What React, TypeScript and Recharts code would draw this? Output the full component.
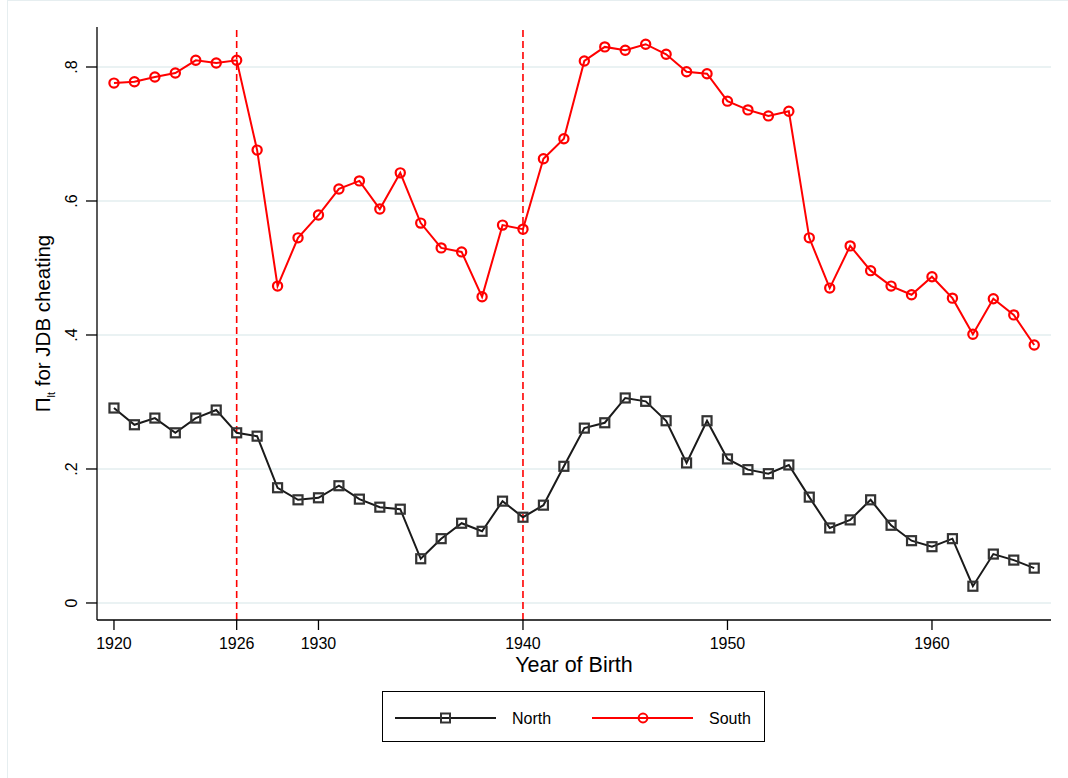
import React from 'react';
import { LineChart, Line, XAxis, YAxis, CartesianGrid, ReferenceLine, Label } from 'recharts';

const years = [
  1920, 1921, 1922, 1923, 1924, 1925, 1926, 1927, 1928, 1929,
  1930, 1931, 1932, 1933, 1934, 1935, 1936, 1937, 1938, 1939,
  1940, 1941, 1942, 1943, 1944, 1945, 1946, 1947, 1948, 1949,
  1950, 1951, 1952, 1953, 1954, 1955, 1956, 1957, 1958, 1959,
  1960, 1961, 1962, 1963, 1964, 1965,
];

const north = [
  0.291, 0.266, 0.276, 0.254, 0.276, 0.288, 0.254, 0.249, 0.172, 0.154,
  0.157, 0.175, 0.155, 0.143, 0.140, 0.066, 0.096, 0.119, 0.107, 0.152,
  0.128, 0.146, 0.204, 0.261, 0.269, 0.306, 0.301, 0.272, 0.209, 0.272,
  0.215, 0.199, 0.193, 0.206, 0.158, 0.112, 0.124, 0.154, 0.116, 0.093,
  0.084, 0.096, 0.025, 0.073, 0.064, 0.052,
];

const south = [
  0.776, 0.778, 0.785, 0.791, 0.810, 0.806, 0.810, 0.676, 0.473, 0.545,
  0.579, 0.618, 0.630, 0.588, 0.642, 0.567, 0.530, 0.524, 0.457, 0.564,
  0.558, 0.663, 0.693, 0.809, 0.830, 0.825, 0.834, 0.819, 0.793, 0.790,
  0.749, 0.736, 0.727, 0.734, 0.545, 0.470, 0.533, 0.496, 0.473, 0.460,
  0.487, 0.455, 0.401, 0.454, 0.430, 0.385,
];

const xTicks = [1920, 1926, 1930, 1940, 1950, 1960];
const yTicks = [0, 0.2, 0.4, 0.6, 0.8];
const cutoffYears = [1926, 1940];

const data = years.map((year, i) => ({ year, north: north[i], south: south[i] }));

const FONT = '"Liberation Sans", Arial, Helvetica, sans-serif';
const RED = '#ff0000';
const DARK = '#1a1a1a';

const fmtY = (v: number) => (v === 0 ? '0' : String(v).replace(/^0/, ''));

const YTick = (props: any) => {
  const { x, y, payload } = props;
  return (
    <text
      x={x}
      y={y}
      transform={`rotate(-90, ${x}, ${y})`}
      textAnchor="middle"
      fontSize={16}
      fontFamily={FONT}
      fill="#000"
    >
      {fmtY(payload.value)}
    </text>
  );
};

const XTick = (props: any) => {
  const { x, y, payload } = props;
  return (
    <text x={x} y={y} dy={13} textAnchor="middle" fontSize={16} fontFamily={FONT} fill="#000">
      {payload.value}
    </text>
  );
};

const YTitle = (props: any) => {
  const vb = props.viewBox;
  const x = vb.x + 13;
  const y = vb.y + vb.height / 2;
  return (
    <text
      x={x}
      y={y}
      transform={`rotate(-90, ${x}, ${y})`}
      textAnchor="middle"
      fontSize={20.5}
      fontFamily={FONT}
      fill="#000"
    >
      Π
      <tspan fontSize={11} dy={5}>lt</tspan>
      <tspan dy={-5}> for JDB cheating</tspan>
    </text>
  );
};

const SquareDot = (p: any) => (
  <rect
    key={`n-${p.index}`}
    x={p.cx - 4.5}
    y={p.cy - 4.5}
    width={9}
    height={9}
    fill="none"
    stroke="#333"
    strokeWidth={2.2}
  />
);

const CircleDot = (p: any) => (
  <circle key={`s-${p.index}`} cx={p.cx} cy={p.cy} r={4.6} fill="none" stroke={RED} strokeWidth={2.2} />
);

const LegendBox = () => (
  <div
    style={{
      position: 'absolute',
      left: 382,
      top: 691,
      width: 381,
      height: 49,
      border: '1px solid #000',
      background: '#fff',
    }}
  >
    <svg width={381} height={49} style={{ display: 'block' }}>
      <line x1={12} x2={113} y1={26} y2={26} stroke={DARK} strokeWidth={2} />
      <rect x={58} y={21.5} width={9} height={9} fill="none" stroke="#333" strokeWidth={2} />
      <text x={129} y={32} fontSize={16} fontFamily={FONT} fill="#000">North</text>
      <line x1={209} x2={310} y1={26} y2={26} stroke={RED} strokeWidth={2} />
      <circle cx={260} cy={26} r={4.4} fill="none" stroke={RED} strokeWidth={2} />
      <text x={326} y={32} fontSize={16} fontFamily={FONT} fill="#000">South</text>
    </svg>
  </div>
);

export default function App() {
  return (
    <div style={{ position: 'absolute', left: 0, top: 0, width: 1068, height: 778, background: '#fff', overflow: 'hidden' }}>
      <div
        style={{
          position: 'absolute',
          left: 7,
          top: 0,
          width: 1061,
          height: 778,
          borderLeft: '1px solid #e6eef0',
          borderTop: '1px solid #e6eef0',
          boxSizing: 'border-box',
        }}
      />
      <div style={{ position: 'absolute', left: 0, top: 0 }}>
        <LineChart width={1068} height={778} data={data} margin={{ top: 27, right: 17, bottom: 98, left: 37 }}>
          <CartesianGrid vertical={false} stroke="#eaf2f3" strokeWidth={2} horizontalValues={yTicks} />
          <XAxis
            dataKey="year"
            type="number"
            domain={[1919.17, 1965.82]}
            ticks={xTicks}
            allowDataOverflow
            height={60}
            tickSize={10}
            tickMargin={6}
            tick={<XTick />}
            axisLine={{ stroke: '#000', strokeWidth: 1.3 }}
            tickLine={{ stroke: '#000', strokeWidth: 1.3 }}
          >
            <Label value="Year of Birth" position="insideTop" offset={37} fontSize={21.5} fontFamily={FONT} fill="#000" />
          </XAxis>
          <YAxis
            type="number"
            domain={[-0.0254, 0.8597]}
            ticks={yTicks}
            allowDataOverflow
            width={60}
            tickSize={11}
            tickMargin={9}
            tick={<YTick />}
            axisLine={{ stroke: '#000', strokeWidth: 1.3 }}
            tickLine={{ stroke: '#000', strokeWidth: 1.3 }}
            label={<YTitle />}
          />
          {cutoffYears.map((yr) => (
            <ReferenceLine key={yr} x={yr} stroke={RED} strokeWidth={1.6} strokeDasharray="7 4" />
          ))}
          <Line
            dataKey="north"
            stroke={DARK}
            strokeWidth={2}
            dot={SquareDot}
            isAnimationActive={false}
          />
          <Line
            dataKey="south"
            stroke={RED}
            strokeWidth={2}
            dot={CircleDot}
            isAnimationActive={false}
          />
        </LineChart>
      </div>
      <LegendBox />
    </div>
  );
}
